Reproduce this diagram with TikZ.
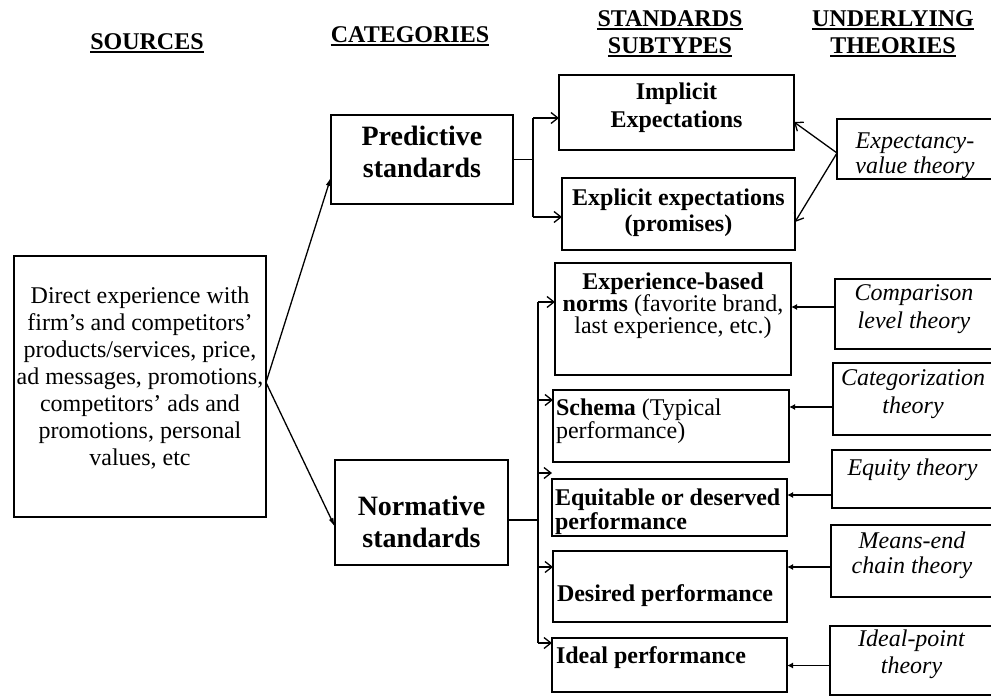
\documentclass[tikz,border=0pt]{standalone}
\usepackage{fontspec}
\setmainfont{Liberation Serif}
\usetikzlibrary{arrows.meta}
\newcommand{\mybox}[6]{\parbox[c][#2][t]{#1}{\lineskiplimit=-100pt\lineskip=0pt\baselineskip=#4\relax#5\rule{0pt}{#3}#6\par}}
\tikzset{
  bx/.style={draw, line width=1.3pt, inner sep=0pt, outer sep=0pt, rectangle},
  hd/.style={font=\fontsize{24pt}{28pt}\selectfont\bfseries, inner sep=0pt, anchor=base},
  ul/.style={line width=1.5pt},
  ln/.style={line width=1.3pt},
  barb/.style={line width=1.3pt, -{Straight Barb[length=7pt,width=11pt]}},
  lat/.style={line width=1.3pt, -{Latex[length=9pt,width=5pt]}},
  tri/.style={line width=1.3pt, -{Latex[length=6pt,width=6pt]}},
  cat/.style={font=\fontsize{28pt}{32pt}\selectfont\bfseries},
  stdb/.style={font=\fontsize{24pt}{22pt}\selectfont\bfseries},
  stdr/.style={font=\fontsize{24pt}{22pt}\selectfont},
  thy/.style={font=\fontsize{24pt}{26pt}\selectfont\itshape},
}
\begin{document}
\begin{tikzpicture}[x=1pt,y=-1pt]
\useasboundingbox (0,0) rectangle (991,696);
% headers
\node[hd] (h1) at (147,49) {SOURCES};
\node[hd] (h2) at (410,42) {CATEGORIES};
\node[hd] (h3) at (670,26) {STANDARDS};
\node[hd] (h4) at (670,53) {SUBTYPES};
\node[hd] (h5) at (893,26) {UNDERLYING};
\node[hd] (h6) at (893,53) {THEORIES};
\foreach \h in {h1,h2,h3,h4,h5,h6}{
  \draw[ul] ([yshift=-3pt]\h.base west) -- ([yshift=-3pt]\h.base east);
}
% sources
\node[bx, font=\fontsize{24pt}{27pt}\selectfont] (src) at (140,386.5)
  {\mybox{252pt}{261pt}{47pt}{27pt}{\centering}{Direct experience with\\ firm's and competitors'\\ products/services, price,\\ ad messages, promotions,\\ competitors' ads and\\ promotions, personal\\ values, etc}};
% categories
\node[bx, cat] (pred) at (422,159.5)
  {\mybox{182pt}{89pt}{30pt}{32pt}{\centering}{Predictive\\ standards}};
\node[bx, cat] (norm) at (421.5,512.5)
  {\mybox{173pt}{105pt}{55pt}{32pt}{\centering}{Normative\\ standards}};
% standards subtypes
\node[bx, stdb] (impl) at (676.5,112.5)
  {\mybox{235pt}{75pt}{24pt}{28pt}{\centering}{Implicit\\ Expectations}};
\node[bx, stdb] (expl) at (678.5,214)
  {\mybox{233pt}{72pt}{27pt}{26pt}{\centering}{Explicit expectations\\ (promises)}};
\node[bx, stdr] (exp) at (673,319)
  {\mybox{236pt}{112pt}{26pt}{22pt}{\centering}{\textbf{Experience-based}\\ \textbf{norms} (favorite brand,\\ last experience, etc.)}};
\node[bx, stdr] (sch) at (671,426)
  {\mybox{236pt}{72pt}{25pt}{23pt}{\raggedright\leftskip=3pt}{\textbf{Schema} (Typical\\ performance)}};
\node[bx, stdb] (equ) at (669.5,507.5)
  {\mybox{235pt}{57pt}{26pt}{24pt}{\raggedright\leftskip=3pt}{Equitable or deserved\\ performance}};
\node[bx, stdb] (des) at (670,586.5)
  {\mybox{234pt}{71pt}{50pt}{22pt}{\raggedright\leftskip=4pt}{Desired performance}};
\node[bx, stdb] (ide) at (669.5,665)
  {\mybox{235pt}{54pt}{25pt}{22pt}{\raggedright\leftskip=4pt}{Ideal performance}};
% theories
\node[bx, thy] (expv) at (915,149)
  {\mybox{156pt}{60pt}{29pt}{25pt}{\centering}{Expectancy-\\ value theory}};
\node[bx, thy] (cmp) at (914,314)
  {\mybox{158pt}{70pt}{21pt}{28pt}{\centering}{Comparison\\ level theory}};
\node[bx, thy] (cat) at (913,399)
  {\mybox{160pt}{72pt}{22pt}{28pt}{\centering}{Categorization\\ theory}};
\node[bx, thy] (eqt) at (912.5,479)
  {\mybox{161pt}{58pt}{25pt}{26pt}{\centering}{Equity theory}};
\node[bx, thy] (mec) at (912,561)
  {\mybox{162pt}{72pt}{23pt}{25pt}{\centering}{Means-end\\ chain theory}};
\node[bx, thy] (idp) at (911.5,660.5)
  {\mybox{163pt}{69pt}{20pt}{27pt}{\centering}{Ideal-point\\ theory}};
% sources to categories
\coordinate (sj) at ([yshift=4pt]src.east);
\draw[lat] (sj) -- ([yshift=-17.5pt]pred.west);
\draw[lat] (sj) -- ([yshift=-14.5pt]norm.west);
% predictive branch
\coordinate (pbt) at (533,118);
\coordinate (pbb) at (533,217);
\draw[ln] (pred.east) -- (pred.east -| pbt);
\draw[ln] (pbt) -- (pbb);
\draw[barb] (pbt) -- (impl.west |- pbt);
\draw[barb] (pbb) -- (expl.west |- pbb);
% normative branch
\coordinate (t1) at (538,302);
\coordinate (t2) at (538,400);
\coordinate (t3) at (538,473);
\coordinate (t4) at (538,567);
\coordinate (t5) at (538,643);
\coordinate (nj) at ([yshift=-7.5pt]norm.east);
\draw[ln] (nj) -- (nj -| t1);
\draw[ln] (t1) -- (t5);
\draw[barb] (t1) -- (exp.west |- t1);
\draw[barb] (t2) -- (sch.west |- t2);
\draw[barb] (t3) -- (equ.west |- t3);
\draw[barb] (t4) -- (des.west |- t4);
\draw[barb] (t5) -- (ide.west |- t5);
% expectancy-value arrows
\coordinate (ev) at ([yshift=-4pt]expv.west);
\draw[barb] (ev) -- ([yshift=-9.5pt]impl.east);
\draw[barb] (ev) -- ([yshift=-8pt]expl.east);
% theory arrows
\coordinate (c1) at ([yshift=7pt]cmp.west);
\coordinate (c2) at ([yshift=-8pt]cat.west);
\coordinate (c3) at ([yshift=-16pt]eqt.west);
\coordinate (c4) at ([yshift=-6pt]mec.west);
\coordinate (c5) at ([yshift=-5pt]idp.west);
\draw[tri] (c1) -- (c1 -| exp.east);
\draw[tri] (c2) -- (c2 -| sch.east);
\draw[tri] (c3) -- (c3 -| equ.east);
\draw[tri] (c4) -- (c4 -| des.east);
\draw[tri] (c5) -- (c5 -| ide.east);
\end{tikzpicture}
\end{document}
